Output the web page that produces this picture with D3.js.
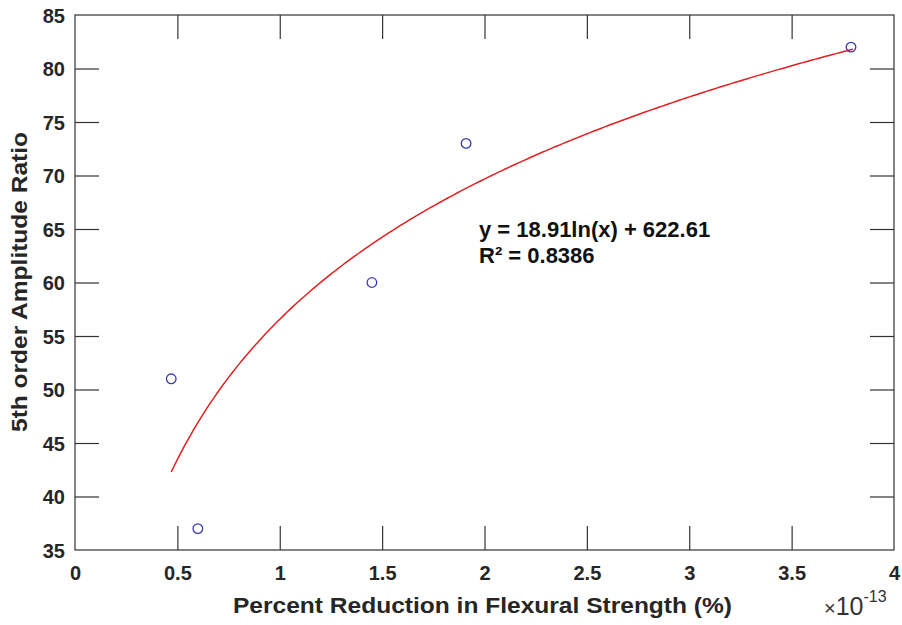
<!DOCTYPE html>
<html><head><meta charset="utf-8">
<script src="https://cdn.jsdelivr.net/npm/d3@7"></script>
<style>body{margin:0;background:#fff;} text{font-family:"Liberation Sans",Arial,sans-serif;font-weight:bold;}</style>
</head><body>
<svg id="c" width="902" height="625"></svg>
<script>
const xValues = [0.47, 0.60, 1.45, 1.91, 3.79];
const yValues = [51, 37, 60, 73, 82];
const xTicks = [0, 0.5, 1, 1.5, 2, 2.5, 3, 3.5, 4];
const yTicks = [35, 40, 45, 50, 55, 60, 65, 70, 75, 80, 85];
const fitA = 18.91, fitB = 622.61, fitExp = -13;
const fitRange = [0.47, 3.8];
const eqLines = ["y = 18.91ln(x) + 622.61", "R² = 0.8386"];

const svg = d3.select("#c");
const L = 75, R = 894, T = 15, B = 550;
const x = d3.scaleLinear().domain([0, 4]).range([L, R]);
const y = d3.scaleLinear().domain([35, 85]).range([B, T]);
const axCol = "#333";
const tickLen = 24;

svg.append("rect").attr("x", L).attr("y", T).attr("width", R - L).attr("height", B - T)
  .attr("fill", "none").attr("stroke", axCol).attr("stroke-width", 1.2);

const fs = 20;
const xa = svg.append("g").attr("transform", `translate(0,${B})`).call(
  d3.axisBottom(x).tickValues(xTicks).tickSize(-tickLen).tickPadding(16).tickFormat(d3.format("~g")));
const xt = svg.append("g").attr("transform", `translate(0,${T})`).call(
  d3.axisTop(x).tickValues(xTicks).tickSize(-tickLen).tickFormat(""));
const ya = svg.append("g").attr("transform", `translate(${L},0)`).call(
  d3.axisLeft(y).tickValues(yTicks).tickSize(-tickLen).tickPadding(10));
const yr = svg.append("g").attr("transform", `translate(${R},0)`).call(
  d3.axisRight(y).tickValues(yTicks).tickSize(-tickLen).tickFormat(""));
[xa, xt, ya, yr].forEach(g => {
  g.select(".domain").remove();
  g.selectAll("line").attr("stroke", axCol).attr("stroke-width", 1.2);
  g.selectAll("text").attr("fill", "#262626").style("font-size", fs + "px")
    .style("font-family", "'Liberation Sans',Arial,sans-serif").style("font-weight", "bold");
});
[xa, xt].forEach(g => g.selectAll(".tick").filter(d => d === 0 || d === 4).select("line").remove());
[ya, yr].forEach(g => g.selectAll(".tick").filter(d => d === 35 || d === 85).select("line").remove());
ya.selectAll("text").attr("dy", "0.36em");

// fit curve
const pts = d3.range(0, 201).map(i => fitRange[0] + (fitRange[1] - fitRange[0]) * i / 200);
const line = d3.line().x(d => x(d)).y(d => y(fitA * Math.log(d * Math.pow(10, fitExp)) + fitB));
svg.append("path").attr("d", line(pts)).attr("fill", "none").attr("stroke", "#e02020").attr("stroke-width", 1.5);

// markers
svg.selectAll("circle.pt").data(xValues).join("circle").attr("class", "pt")
  .attr("cx", d => x(d)).attr("cy", (d, i) => y(yValues[i])).attr("r", 4.8)
  .attr("fill", "none").attr("stroke", "#3a3ab8").attr("stroke-width", 1.3);

// equation
svg.selectAll("text.eq").data(eqLines).join("text").attr("class", "eq")
  .attr("x", 479).attr("y", (d, i) => 237 + i * 26).attr("fill", "#111")
  .style("font-size", "22px").text(d => d);

// axis labels
svg.append("text").attr("x", (233 + 732) / 2).attr("y", 613).attr("text-anchor", "middle")
  .attr("fill", "#262626").style("font-size", "22px")
  .attr("textLength", 499).attr("lengthAdjust", "spacingAndGlyphs")
  .text("Percent Reduction in Flexural Strength (%)");
svg.append("text").attr("transform", `translate(27,282) rotate(-90)`).attr("text-anchor", "middle")
  .attr("fill", "#262626").style("font-size", "22px")
  .attr("textLength", 300).attr("lengthAdjust", "spacingAndGlyphs")
  .text("5th order Amplitude Ratio");

// exponent
const ex = svg.append("text").attr("x", 824).attr("y", 615).attr("fill", "#333");
ex.append("tspan").style("font-weight", "normal").style("font-size", "20px").text("×");
ex.append("tspan").style("font-weight", "normal").style("font-size", "25px").text("10");
ex.append("tspan").attr("dy", -13).style("font-size", "16px").style("font-weight", "normal").text("-13");
</script>
</body></html>
